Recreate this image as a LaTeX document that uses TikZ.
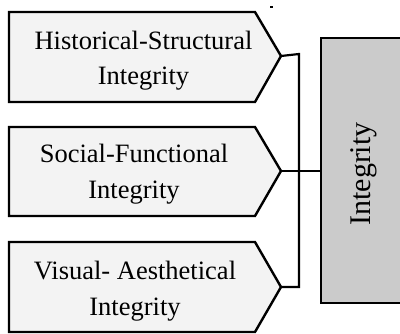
\documentclass[tikz,border=0pt]{standalone}
\usepackage{fontspec}
\setmainfont{Liberation Serif}
\begin{document}
\begin{tikzpicture}[x=1pt,y=-1pt,
  part/.style={draw=black,line width=2.4pt,fill=boxgray,line join=miter},
  conn/.style={draw=black,line width=2.2pt},
  lbl/.style={align=center,inner sep=0pt,font=\fontsize{26.5}{35.5}\selectfont},
  whole/.style={draw=black,line width=2.4pt,fill=mainfill}]
\definecolor{boxgray}{HTML}{F3F3F3}
\definecolor{mainfill}{HTML}{CBCBCB}
\useasboundingbox (0,0) rectangle (400,334);
\clip (0,0) rectangle (400,334);
% component shapes
\draw[part] (9,12) -- (255,12) -- (281,56) coordinate (t1) -- (255,102) -- (9,102) -- cycle;
\draw[part] (9,127) -- (255,127) -- (281,171) coordinate (t2) -- (255,216) -- (9,216) -- cycle;
\draw[part] (9,242) -- (255,242) -- (281,287) coordinate (t3) -- (255,332) -- (9,332) -- cycle;
\node[lbl] (l1) at (143.5,60.9) {Historical-Structural\\Integrity};
\node[lbl] (l2) at (134,174.2) {Social-Functional\\Integrity};
\node[lbl] (l3) at (135,291.4) {Visual- Aesthetical\\Integrity};
% main box
\draw[whole] (321,38) rectangle (410,303);
\coordinate (m) at (321,171);
\node[inner sep=0pt,rotate=90,font=\fontsize{30}{35}\selectfont] (int) at (363.6,174) {Integrity};
% connectors
\coordinate (b1) at (299,54);
\coordinate (b2) at (299,171);
\coordinate (b3) at (299,287);
\draw[conn] (t1) -- (b1) -- (b3) -- (t3);
\draw[conn] (t2) -- (m);
\draw[line width=1.2pt] (270,7) -- (273,7);
\end{tikzpicture}
\end{document}
